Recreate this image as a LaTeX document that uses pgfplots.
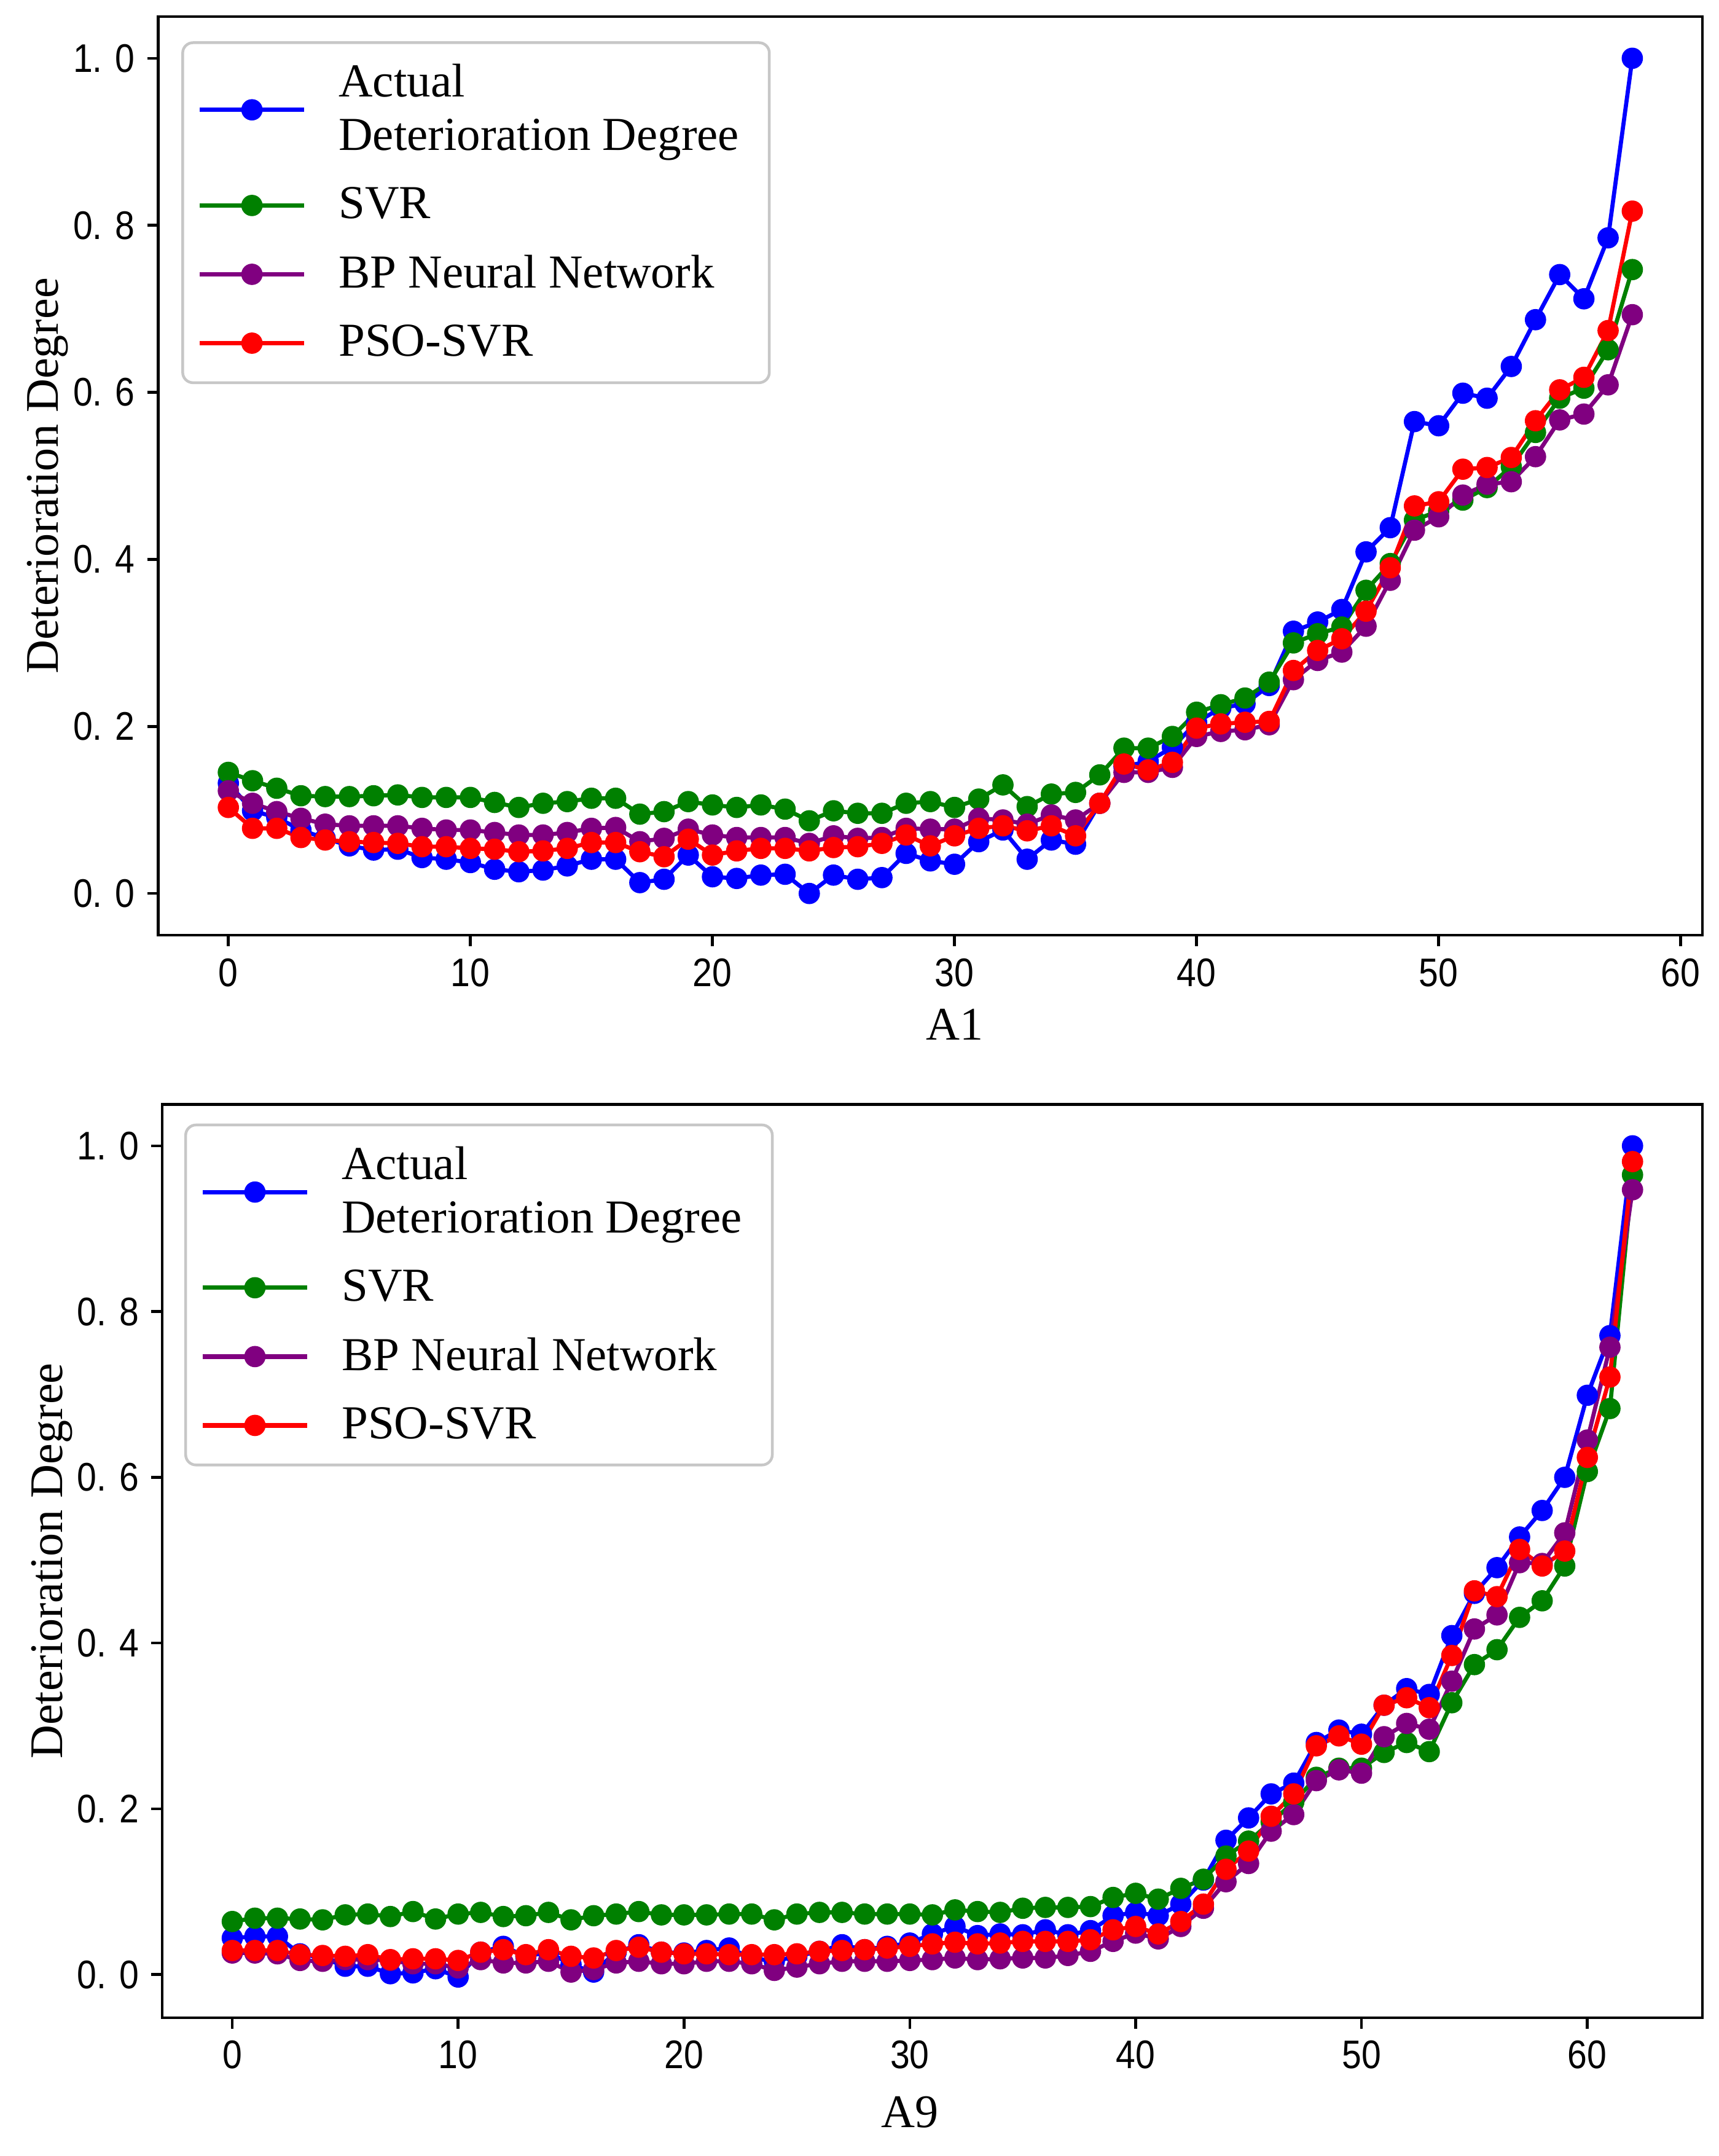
\documentclass[border=0pt]{standalone}
\usepackage{fontspec}
\setmainfont{Liberation Serif}
\newfontfamily\tickfont[FakeStretch=0.88]{Liberation Sans}
\usepackage{pgfplots}
\usepackage{pgfplotstable}
\pgfplotsset{compat=1.18}

\pgfplotstableread{
x act svr bp pso
0 0.132 0.145 0.123 0.103
1 0.099 0.135 0.108 0.078
2 0.091 0.126 0.098 0.078
3 0.076 0.117 0.090 0.067
4 0.066 0.116 0.083 0.064
5 0.057 0.116 0.081 0.062
6 0.052 0.117 0.081 0.061
7 0.053 0.118 0.081 0.060
8 0.043 0.115 0.078 0.056
9 0.041 0.115 0.076 0.056
10 0.037 0.115 0.076 0.054
11 0.029 0.109 0.073 0.053
12 0.026 0.103 0.070 0.050
13 0.028 0.108 0.070 0.051
14 0.033 0.110 0.073 0.054
15 0.041 0.114 0.078 0.061
16 0.041 0.114 0.079 0.061
17 0.013 0.095 0.062 0.050
18 0.017 0.098 0.066 0.044
19 0.046 0.110 0.077 0.065
20 0.020 0.106 0.070 0.046
21 0.018 0.103 0.067 0.051
22 0.022 0.106 0.067 0.054
23 0.023 0.101 0.067 0.054
24 0.000 0.087 0.060 0.051
25 0.022 0.099 0.069 0.055
26 0.017 0.096 0.066 0.056
27 0.019 0.096 0.067 0.060
28 0.048 0.108 0.078 0.070
29 0.039 0.110 0.077 0.057
30 0.035 0.103 0.077 0.069
31 0.062 0.113 0.090 0.078
32 0.076 0.130 0.088 0.081
33 0.041 0.104 0.083 0.075
34 0.064 0.119 0.094 0.081
35 0.059 0.121 0.088 0.069
36 0.108 0.142 0.108 0.108
37 0.152 0.174 0.145 0.155
38 0.158 0.174 0.145 0.148
39 0.175 0.188 0.151 0.157
40 0.205 0.217 0.188 0.198
41 0.222 0.226 0.194 0.203
42 0.227 0.234 0.196 0.205
43 0.249 0.253 0.202 0.206
44 0.314 0.300 0.256 0.267
45 0.325 0.311 0.279 0.291
46 0.340 0.319 0.289 0.305
47 0.409 0.363 0.320 0.338
48 0.438 0.395 0.375 0.390
49 0.565 0.447 0.435 0.464
50 0.560 0.458 0.451 0.469
51 0.599 0.471 0.477 0.508
52 0.593 0.486 0.490 0.510
53 0.631 0.511 0.493 0.522
54 0.687 0.552 0.523 0.566
55 0.741 0.593 0.567 0.603
56 0.712 0.605 0.574 0.618
57 0.785 0.651 0.609 0.674
58 1.000 0.747 0.693 0.817
}\tableA

\pgfplotstableread{
x act svr bp pso
0 0.044 0.064 0.026 0.029
1 0.046 0.068 0.026 0.029
2 0.046 0.068 0.025 0.029
3 0.025 0.067 0.017 0.024
4 0.020 0.066 0.016 0.023
5 0.010 0.072 0.018 0.022
6 0.010 0.073 0.018 0.024
7 0.001 0.070 0.017 0.018
8 0.002 0.076 0.013 0.019
9 0.007 0.067 0.013 0.019
10 -0.003 0.073 0.008 0.017
11 0.027 0.075 0.018 0.027
12 0.034 0.070 0.014 0.030
13 0.022 0.071 0.014 0.024
14 0.027 0.075 0.016 0.030
15 0.012 0.066 0.003 0.022
16 0.003 0.071 0.006 0.020
17 0.027 0.073 0.014 0.029
18 0.036 0.076 0.016 0.033
19 0.027 0.072 0.013 0.027
20 0.026 0.072 0.013 0.025
21 0.029 0.072 0.016 0.025
22 0.032 0.073 0.016 0.024
23 0.020 0.073 0.013 0.024
24 0.016 0.066 0.005 0.024
25 0.022 0.073 0.009 0.025
26 0.028 0.075 0.013 0.028
27 0.036 0.075 0.016 0.029
28 0.030 0.073 0.016 0.030
29 0.034 0.073 0.016 0.032
30 0.038 0.073 0.017 0.034
31 0.049 0.072 0.018 0.037
32 0.058 0.078 0.020 0.039
33 0.047 0.076 0.018 0.037
34 0.049 0.075 0.019 0.038
35 0.048 0.080 0.020 0.040
36 0.054 0.081 0.020 0.040
37 0.048 0.081 0.023 0.040
38 0.053 0.082 0.028 0.042
39 0.071 0.093 0.040 0.054
40 0.075 0.098 0.050 0.058
41 0.071 0.091 0.043 0.049
42 0.085 0.104 0.058 0.064
43 0.114 0.115 0.080 0.085
44 0.162 0.143 0.112 0.127
45 0.189 0.161 0.134 0.149
46 0.218 0.184 0.173 0.191
47 0.231 0.208 0.193 0.218
48 0.280 0.238 0.234 0.276
49 0.295 0.249 0.247 0.288
50 0.290 0.249 0.243 0.278
51 0.325 0.268 0.287 0.325
52 0.345 0.280 0.303 0.334
53 0.338 0.269 0.296 0.322
54 0.409 0.328 0.354 0.385
55 0.460 0.374 0.417 0.463
56 0.491 0.392 0.434 0.456
57 0.528 0.431 0.497 0.513
58 0.560 0.451 0.496 0.493
59 0.600 0.493 0.533 0.511
60 0.699 0.607 0.645 0.624
61 0.771 0.683 0.757 0.721
62 1.000 0.965 0.947 0.981
}\tableB

\definecolor{cblue}{RGB}{0,0,255}
\definecolor{cgreen}{RGB}{0,128,0}
\definecolor{cpurple}{RGB}{128,0,128}
\definecolor{cred}{RGB}{255,0,0}

\pgfplotsset{
  myaxis/.style={
    scale only axis,
    axis line style={line width=0.8pt, black},
    every tick/.style={line width=0.8pt, black},
    tick align=outside, major tick length=3.2pt,
    xtick pos=bottom, ytick pos=left,
    ytick={0,0.2,0.4,0.6,0.8,1.0},
    yticklabels={0. 0,0. 2,0. 4,0. 6,0. 8,1. 0},
    xtick={0,10,20,30,40,50,60},
    xticklabels={0,10,20,30,40,50,60},
    ticklabel style={font=\tickfont\fontsize{11.6}{13}\selectfont},
    label style={font=\fontsize{13.6}{15.6}\selectfont},
    ylabel={Deterioration Degree},
    ylabel style={at={(axis description cs:-0.0715,0.5)}, anchor=center},
    legend cell align=left,
    legend style={anchor=north west,
      draw=black!22, line width=0.8pt, rounded corners=3pt, fill=white,
      font=\fontsize{13.75}{15.6}\selectfont,
      cells={align=left}, nodes={inner xsep=4.5pt}, row sep=5.2pt, column sep=4.9pt,
      inner xsep=4.3pt, inner ysep=4.2pt},
    legend image code/.code={
      \draw[mark repeat=2,mark phase=2,##1,line width=1.3pt] plot coordinates {(0pt,0pt) (15.2pt,0pt) (30.4pt,0pt)};
    },
    every axis plot/.append style={line width=1.2pt, mark=*, mark size=2.95pt,
      mark options={solid, line width=0.3pt}},
  }
}

\begin{document}
\begin{tikzpicture}
\useasboundingbox (0,0) rectangle (500pt,-627.05pt);
\begin{axis}[myaxis, at={(46pt,-4.8pt)}, anchor=north west,
  width=449.2pt, height=267.2pt,
  xmin=-2.9, xmax=60.9, ymin=-0.05, ymax=1.05, xlabel={A1},
  legend style={at={(0.015,0.973)}},
  xlabel style={at={(axis description cs:0.5157,0)}, yshift=-26pt, anchor=center}]
\addplot[color=cblue] table[x=x,y=act]{\tableA};
\addlegendentry{Actual\\Deterioration Degree}
\addplot[color=cgreen] table[x=x,y=svr]{\tableA};
\addlegendentry{SVR}
\addplot[color=cpurple] table[x=x,y=bp]{\tableA};
\addlegendentry{BP Neural Network}
\addplot[color=cred] table[x=x,y=pso]{\tableA};
\addlegendentry{PSO-SVR}
\end{axis}
\begin{axis}[myaxis, at={(47.2pt,-321.2pt)}, anchor=north west,
  width=448pt, height=265.6pt,
  xmin=-3.1, xmax=65.1, ymin=-0.052, ymax=1.05, xlabel={A9},
  legend style={at={(0.0143,0.979)}},
  xlabel style={at={(axis description cs:0.4853,0)}, yshift=-27.5pt, anchor=center}]
\addplot[color=cblue] table[x=x,y=act]{\tableB};
\addlegendentry{Actual\\Deterioration Degree}
\addplot[color=cgreen] table[x=x,y=svr]{\tableB};
\addlegendentry{SVR}
\addplot[color=cpurple] table[x=x,y=bp]{\tableB};
\addlegendentry{BP Neural Network}
\addplot[color=cred] table[x=x,y=pso]{\tableB};
\addlegendentry{PSO-SVR}
\end{axis}
\end{tikzpicture}
\end{document}
